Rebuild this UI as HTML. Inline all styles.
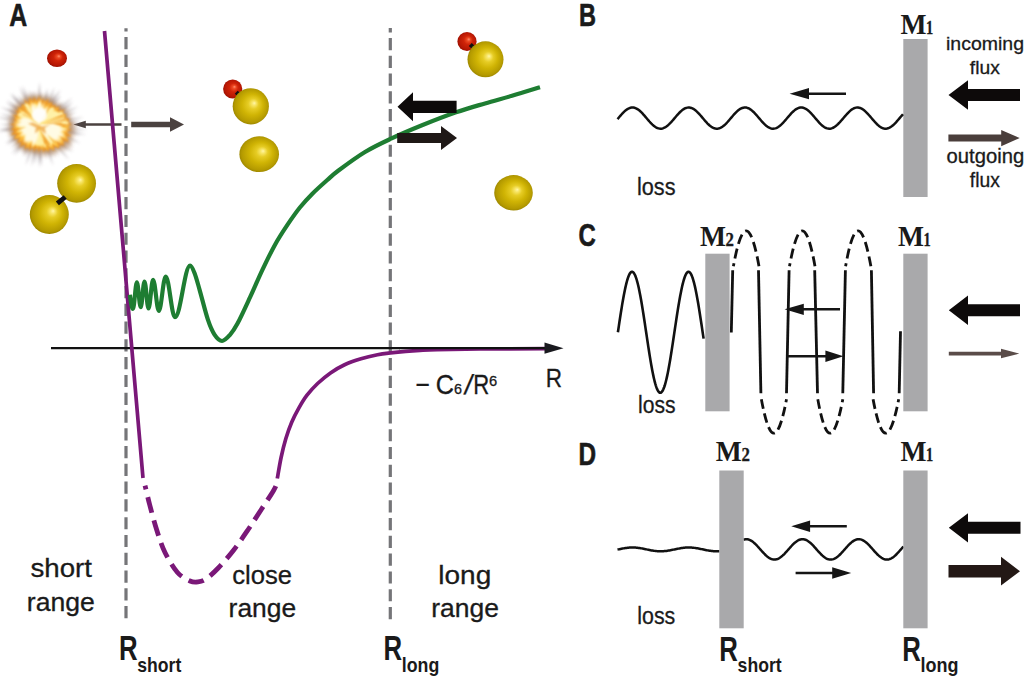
<!DOCTYPE html>
<html lang="en">
<head>
<meta charset="utf-8">
<title>Reaction potential and flux model</title>
<style>
html,body{margin:0;padding:0;background:#fff;}
body{width:1024px;height:681px;overflow:hidden;}
svg{display:block;}
.sans{font-family:"Liberation Sans",sans-serif;fill:#1a1a1a;stroke:#1a1a1a;stroke-width:0.3px;}
.serif{font-family:"Liberation Serif",serif;font-weight:bold;fill:#1a1a1a;}
.lab{font-family:"Liberation Sans",sans-serif;font-weight:bold;fill:#1a1a1a;}
.cap{font-family:"Liberation Sans",sans-serif;font-weight:bold;fill:#1a1a1a;stroke:#1a1a1a;stroke-width:0.6px;stroke-linejoin:round;}
</style>
</head>
<body>
<svg width="1024" height="681" viewBox="0 0 1024 681">
<defs>
<radialGradient id="gy" cx="0.5" cy="0.5" r="0.56" fx="0.6" fy="0.41">
<stop offset="0" stop-color="#fff6a8"/>
<stop offset="0.1" stop-color="#f8e668"/>
<stop offset="0.26" stop-color="#e6cc24"/>
<stop offset="0.52" stop-color="#d0b404"/>
<stop offset="0.82" stop-color="#b49a00"/>
<stop offset="1" stop-color="#887600"/>
</radialGradient>
<radialGradient id="gr" cx="0.5" cy="0.5" r="0.56" fx="0.6" fy="0.38">
<stop offset="0" stop-color="#ff9070"/>
<stop offset="0.16" stop-color="#ee4a24"/>
<stop offset="0.4" stop-color="#cf2408"/>
<stop offset="0.75" stop-color="#b81804"/>
<stop offset="1" stop-color="#8e0c00"/>
</radialGradient>
<radialGradient id="gex" cx="0.5" cy="0.5" r="0.5">
<stop offset="0" stop-color="#f0a030"/>
<stop offset="0.7" stop-color="#e09434"/>
<stop offset="0.85" stop-color="#c08850" stop-opacity="0.75"/>
<stop offset="1" stop-color="#a08878" stop-opacity="0"/>
</radialGradient>
<filter id="blur1" x="-30%" y="-30%" width="160%" height="160%"><feGaussianBlur stdDeviation="1.2"/></filter>
<filter id="blur3" x="-30%" y="-30%" width="160%" height="160%"><feGaussianBlur stdDeviation="2"/></filter>
<filter id="blur15" x="-30%" y="-30%" width="160%" height="160%"><feGaussianBlur stdDeviation="1.5"/></filter>
<filter id="blur2" x="-30%" y="-30%" width="160%" height="160%"><feGaussianBlur stdDeviation="0.8"/></filter>
</defs>
<rect width="1024" height="681" fill="#ffffff"/>

<g id="panelA">
<line x1="126" y1="28.3" x2="126" y2="618.4" stroke="#757578" stroke-width="3.2" stroke-dasharray="12.2 5.58" stroke-dashoffset="9"/>
<line x1="390.3" y1="28" x2="390.3" y2="619.8" stroke="#757578" stroke-width="3.2" stroke-dasharray="12.2 5.58" stroke-dashoffset="7.8"/>
<line x1="51" y1="348.2" x2="400" y2="348.2" stroke="#111" stroke-width="2.2"/>
<polygon points="73.2,124.5 85.8,120.8 85.8,123.35 121.5,123.35 121.5,125.65 85.8,125.65 85.8,128.2" fill="#4b4240"/>
<path d="M104.5 31 C107.5 65.83 117.88 186.33 122.5 240 C127.12 293.67 128.78 313.33 132.2 353 C135.62 392.67 141.2 457.17 143 478" fill="none" stroke="#7a1878" stroke-width="3.7" stroke-linecap="butt"/>
<path d="M143 478 C143.42 479.58 144.38 483 145.5 487.5 C146.62 492 147.88 497.92 149.75 505 C151.62 512.08 154.21 522.08 156.75 530 C159.29 537.92 161.54 545.42 165 552.5 C168.46 559.58 173.33 567.75 177.5 572.5 C181.67 577.25 186.58 579.43 190 581 C193.42 582.57 195.29 582.27 198 581.9 C200.71 581.52 202.88 581.07 206.25 578.75 C209.62 576.43 213.67 572.79 218.25 568 C222.83 563.21 228.76 556.42 233.75 550 C238.74 543.58 243.61 536.25 248.2 529.5 C252.79 522.75 257.07 516 261.3 509.5 C265.53 503 270.85 495.25 273.6 490.5 C276.35 485.75 277.1 482.58 277.8 481" pathLength="263.5" fill="none" stroke="#7a1878" stroke-width="4.8" stroke-dasharray="0 8.3 4 8.2 16.5 8 16.5 8 16.5 8 16.5 8 16.5 8 16.5 8 16.5 8 16.5 8 16.5 8 16.5 6"/>
<path d="M277.3 478.5 C277.93 475 279.68 464.13 281.1 457.5 C282.52 450.87 284.03 444.58 285.8 438.7 C287.57 432.82 289.53 427.3 291.7 422.2 C293.87 417.1 296.25 412.6 298.8 408.1 C301.35 403.6 303.87 399.3 307 395.2 C310.13 391.1 313.68 387.22 317.6 383.5 C321.52 379.78 326 376.03 330.5 372.9 C335 369.77 339.52 367.05 344.6 364.7 C349.68 362.35 355.52 360.45 361 358.8 C366.48 357.15 372.6 355.78 377.5 354.8 C382.4 353.82 385.7 353.48 390.4 352.9 C395.1 352.32 400.77 351.73 405.7 351.3 C410.63 350.87 414.78 350.58 420 350.3 C425.22 350.02 427 349.82 437 349.6 C447 349.38 461.83 349.17 480 349 C498.17 348.83 535 348.67 546 348.6" fill="none" stroke="#7a1878" stroke-width="3.7"/>
<line x1="399" y1="348.2" x2="548" y2="348.2" stroke="#111" stroke-width="2.2"/>
<polygon points="563.5,348.2 544.5,342.6 544.5,353.8" fill="#1a1a1f"/>
<path d="M129.9 294.8 C130.6 300 131.6 308.9 132.9 308.9 C134.36 308.9 135.44 282.3 136.9 282.3 C138.28 282.3 139.32 307.2 140.7 307.2 C142.08 307.2 143.12 281.5 144.5 281.5 C145.96 281.5 147.04 308.4 148.5 308.4 C150.18 308.4 151.42 279.8 153.1 279.8 C155.18 279.8 156.72 310.9 158.8 310.9 C161.31 310.9 163.19 276.5 165.7 276.5 C169.09 276.5 171.61 317.2 175 317.2 C180.5 317.2 184.6 265.7 190.1 265.7 C191.6 265.7 193.02 269.18 194.6 273.2 C196.18 277.22 197.38 282.05 199.6 289.8 C201.82 297.55 205.42 312.23 207.9 319.7 C210.38 327.17 212.15 331.05 214.5 334.6 C216.85 338.15 219.42 340.97 222 341 C224.58 341.03 227.42 337.7 230 334.8 C232.58 331.9 234.17 329.83 237.5 323.6 C240.83 317.37 245.85 306.35 250 297.4 C254.15 288.45 258.25 278.65 262.4 269.9 C266.55 261.15 270.73 252.4 274.9 244.9 C279.07 237.4 283.23 231.13 287.4 224.9 C291.57 218.67 295.73 212.7 299.9 207.5 C304.07 202.3 307.83 198.28 312.4 193.7 C316.97 189.12 322.95 183.87 327.3 180 C331.65 176.13 332.22 175.17 338.5 170.5 C344.78 165.83 356.25 157.3 365 152 C373.75 146.7 381.5 143.15 391 138.7 C400.5 134.25 411.17 129.7 422 125.3 C432.83 120.9 445.5 115.95 456 112.3 C466.5 108.65 475.67 106.15 485 103.4 C494.33 100.65 502.83 98.48 512 95.8 C521.17 93.12 535.33 88.72 540 87.3" fill="none" stroke="#1e7d32" stroke-width="4.2" stroke-linejoin="round"/>
<ellipse cx="57" cy="58.2" rx="10" ry="8.8" fill="url(#gr)"/>
<ellipse cx="76.6" cy="183.3" rx="19.4" ry="19.4" fill="url(#gy)"/>
<ellipse cx="49.3" cy="214.4" rx="19.5" ry="19.5" fill="url(#gy)"/>
<line x1="57.4" y1="203.4" x2="65.2" y2="197" stroke="#111" stroke-width="4.8"/>
<ellipse cx="232.7" cy="89" rx="9.6" ry="9.6" fill="url(#gr)"/>
<line x1="236.2" y1="92.3" x2="242.5" y2="98" stroke="#111" stroke-width="4.2"/>
<ellipse cx="250.8" cy="106.3" rx="18.1" ry="18.1" fill="url(#gy)"/>
<ellipse cx="259.2" cy="154.2" rx="19.8" ry="17.9" fill="url(#gy)"/>
<ellipse cx="467" cy="41.5" rx="9.6" ry="9.6" fill="url(#gr)"/>
<line x1="470.3" y1="44.5" x2="476" y2="50" stroke="#111" stroke-width="4.2"/>
<ellipse cx="485.5" cy="59.3" rx="18" ry="18" fill="url(#gy)"/>
<ellipse cx="513.5" cy="192.8" rx="19.3" ry="17.7" fill="url(#gy)"/>
<g id="explosion">
<path d="M60.87 123.3 L84.87 124.85 L60.85 125.94 Z M60.86 125.76 L87.37 130.33 L60.54 128.38 Z M60.63 127.81 L86.77 134.88 L60.07 130.39 Z M60.48 128.7 L81.55 135.6 L59.8 131.25 Z M59.43 132.32 L80.97 143.6 L58.33 134.72 Z M58.58 134.22 L73.7 144.46 L57.27 136.51 Z M57.92 135.46 L73.4 147.33 L56.46 137.65 Z M56.67 137.37 L73.22 152.77 L54.99 139.41 Z M55.92 138.34 L68.46 151.74 L54.13 140.28 Z M54.13 140.27 L69.45 160.31 L52.12 141.98 Z M51.82 142.21 L59.22 156.26 L49.6 143.62 Z M49.97 143.41 L55.46 157.24 L47.61 144.6 Z M48.34 144.27 L52.38 157.83 L45.89 145.26 Z M47.35 144.71 L53.31 165.87 L44.86 145.58 Z M44.97 145.55 L46.74 159.53 L42.4 146.12 Z M41.52 146.24 L41.43 166.85 L38.89 146.4 Z M40.59 146.34 L39.63 167.77 L37.95 146.38 Z M37.99 146.38 L34.85 164.23 L35.37 146.11 Z M36.43 146.26 L31.53 166.64 L33.83 145.81 Z M33.46 145.72 L25.73 165.55 L30.95 144.91 Z M31.06 144.96 L24.07 157.23 L28.66 143.87 Z M29.93 144.49 L22.9 155.15 L27.59 143.27 Z M28.34 143.7 L20.97 152.95 L26.1 142.3 Z M26.27 142.42 L14.12 155.59 L24.21 140.77 Z M24.97 141.43 L11.23 154.36 L23.03 139.64 Z M22.96 139.56 L10.69 148.17 L21.26 137.54 Z M21.04 137.25 L6.09 145.13 L19.63 135.02 Z M20.33 136.19 L4.96 143.19 L19.05 133.88 Z M18.96 133.7 L7.28 136.9 L17.99 131.24 Z M17.99 131.25 L6.57 132.88 L17.32 128.7 Z M17.51 129.55 L-2.74 131.82 L17.05 126.95 Z M17.32 128.7 L-2.3 130.07 L16.96 126.09 Z M16.95 125.95 L-0.1 124.82 L16.93 123.32 Z M16.9 124.42 L5.95 122.46 L17.06 121.79 Z M17.03 121.97 L-3.27 117.13 L17.48 119.37 Z M17.38 119.81 L-0.09 113.6 L18.09 117.27 Z M18.37 116.5 L0.3 106.83 L19.46 114.1 Z M18.8 115.46 L6.98 107.85 L20.01 113.12 Z M19.93 113.26 L5.16 101.76 L21.4 111.07 Z M20.69 112.05 L6.9 99.77 L22.3 109.96 Z M22.79 109.42 L10.08 94.17 L24.7 107.6 Z M23.36 108.83 L10.57 92.38 L25.34 107.08 Z M25.04 107.32 L17.81 94.97 L27.18 105.78 Z M27.55 105.55 L19.13 86.6 L29.89 104.33 Z M29.02 104.74 L22.04 85.13 L31.45 103.7 Z M31.34 103.74 L28.58 89.95 L33.86 102.98 Z M33.01 103.2 L31.69 90.76 L35.59 102.65 Z M34.7 102.8 L34.43 90.72 L37.32 102.46 Z M37.91 102.42 L39.55 81.39 L40.55 102.46 Z M39.14 102.4 L41.21 92.02 L41.78 102.59 Z M42.74 102.74 L47.63 87.99 L45.3 103.35 Z M43.85 102.96 L48.55 91.71 L46.38 103.71 Z M46.24 103.66 L54.65 87.18 L48.67 104.69 Z M48.02 104.38 L55.72 92.65 L50.35 105.61 Z M49.32 105.03 L60.66 89.18 L51.57 106.41 Z M51.14 106.12 L61.22 95.02 L53.24 107.71 Z M53.94 108.34 L63.19 101.39 L55.75 110.26 Z M55.31 109.75 L72.59 97.78 L56.95 111.82 Z M56.56 111.29 L73.84 101.58 L58.01 113.5 Z M57.27 112.3 L72.05 105.32 L58.59 114.59 Z M58.41 114.23 L78.67 106.6 L59.48 116.63 Z M59.4 116.43 L77.18 112.1 L60.21 118.94 Z M60.39 119.68 L84.26 117.25 L60.8 122.28 Z M60.74 121.76 L81.13 121.86 L60.9 124.4 Z" fill="#7a6c72" opacity="0.62" filter="url(#blur15)"/>
<polygon points="76.47,124.4 72.04,127.01 77.01,130.44 70.92,132.09 75.79,136.39 69.21,136.95 73.32,141.94 68.28,142.4 71.66,148.2 63.91,145.76 65.4,150.9 59.16,148.12 59.18,152.32 54.5,149.86 55.14,156.28 50.34,152.01 49.06,155.68 45.6,152.29 44.12,157.33 41.08,152.08 38.9,156.68 36.74,151.8 34.06,154.99 32.53,150.95 29.4,153.64 28.55,149.4 24.05,153.55 24.41,148.05 20.44,149.81 20.37,146.09 15.58,147.72 17.58,142.61 13.93,142.54 15.01,139.04 10.68,138.78 12.9,135.17 8.28,134.35 11.54,130.97 6.83,129.48 11.24,126.58 7.89,124.4 11.87,122.27 7.31,119.4 12.47,118.05 9.96,115 13.88,114.04 10.28,109.82 16.04,110.39 12.55,105.25 18.04,106.59 16.83,102.33 21.48,104 21.15,99.97 24.51,100.92 23.92,95.01 28.6,99.52 28.98,93.86 32.53,97.87 33.89,92.75 36.86,98.45 38.9,92.54 40.97,98.04 43.76,93.74 44.92,99.3 48.34,95.35 48.93,100.2 52.71,97.3 52.53,102.16 55.69,101.29 55.39,105.09 60.46,102.84 59.39,106.9 63.74,106.35 62.8,109.75 68.75,109.19 64.8,113.67 71.7,113.74 67.83,117.45 72.9,119.02 69.65,121.98" fill="#b88a60" opacity="0.75" filter="url(#blur3)"/>
<polygon points="71.65,124.4 67.03,126.86 71.73,130.19 66.39,131.77 71.47,136.25 65.61,136.85 69.16,141.87 63.13,141.37 64.13,145.57 59.75,145.25 58.84,148.16 54.44,146.59 54.16,150.83 49.85,147.89 48.73,151.41 45.58,149.34 43.84,152.39 40.93,147.63 38.9,152.8 36.89,147.38 34.04,151.94 32.81,147.14 29.27,150.87 28.31,147.11 24.34,149.62 25.02,144.23 19.96,146.97 21.25,142.05 17.07,142.72 19.25,138.16 13.65,138.98 16.38,134.9 10.75,134.64 14.29,131 10.69,129.37 15.18,126.47 9.91,124.4 16.25,122.42 12.74,119.79 16.03,118.27 12.88,114.93 18.33,114.81 14.91,110.55 18.98,110.45 18.08,106.93 22.28,107.78 21.56,103.73 25.49,105.25 24.34,99.18 28.9,102.96 28.94,97.04 32.5,100.51 34.04,96.85 36.88,101.36 38.9,95.76 40.93,101.2 43.55,98.04 44.75,102.57 48.43,98.2 48.52,103.78 51.91,101.86 51.98,105.72 55.55,104.56 55.56,107.74 59.96,106.73 58.33,110.8 64.54,109.6 62.53,113.38 66.08,114.51 64.75,117.47 69.65,118.98 67.87,121.87" fill="#e8962c" opacity="1" filter="url(#blur1)"/>
<polygon points="70.81,126.64 62.24,128.36 68.57,132.5 61.04,132.85 69.03,139.43 59.16,137.13 63.81,143.69 56.18,140.73 58.87,147.38 52.28,143.26 53.45,149.87 47.31,143.19 47.78,150.95 43.39,144.08 42.2,150.39 39.45,144.08 37.16,149.24 35.56,144.09 32.22,148.87 31.91,142.72 27.06,148.13 28,141.75 23.85,143.83 25.28,138.81 19.11,141.6 21.13,137.01 14.86,138.14 20.01,132.86 15.56,132.21 18.34,129.09 13.52,127.62 18.7,124.97 12.9,122.58 19.12,121.04 14.73,117.81 19.63,117.05 16.84,113.4 22.58,114.15 18.18,108.35 25.17,111.42 22.72,105.78 26.91,107.5 26.95,103.48 30.39,105.39 30.62,99.64 34.52,105.22 35.8,100 38.33,104.07 40.73,98.29 41.97,106.3 45.33,100.84 45.73,106.51 49.73,102.68 48.78,108.68 53.24,105.89 52.34,110.18 58.65,107.24 54.35,113.43 61.05,111.75 59.08,115.37 66.38,115.21 61.29,119.29 66.49,120.9 63.25,123.71" fill="#ffc040" opacity="1" filter="url(#blur2)"/>
<polygon points="69.42,129.01 59.89,130.23 66.61,135.85 54.85,133.37 63.17,142.22 52.22,136.91 56.72,145.74 49.61,140.93 50.5,148.17 44.13,139.51 43.81,147.16 40.51,141.93 38.26,146.34 36.45,140.59 32.78,146.45 33.12,138.4 27.12,145.34 29.99,136.53 23.62,140.67 26.42,134.82 20.17,136.54 25.17,131.1 16.03,132.32 22.18,128.01 14.02,126.69 23.91,123.96 16.4,121 24.17,120.31 17.46,115.55 25.19,116.68 19.09,109.85 27.59,113.78 25.23,108.03 29.87,110.46 29.31,104.76 33.52,108.86 34.01,101.75 37.34,107.39 39.57,101.43 41.28,108.66 44.63,103.77 44.81,110.1 49.3,105.92 48.42,111.43 54.39,107.91 50.31,114.87 57.89,112.1 53.77,117.14 63.87,115.75 55.65,120.79 66.96,121.82 58.76,124.98" fill="#ffe27a" opacity="1" filter="url(#blur2)"/>
<path d="M42.52 129.2 L53.67 141.87 L51.61 143.43 Z M42.92 131.13 L52.17 144.64 L50.4 145.7 Z M40.99 132.06 L46.06 146.89 L44.16 147.41 Z M40.4 131.64 L43.87 144.07 L42.15 144.42 Z M39.15 126.69 L42.04 145.2 L40.29 145.39 Z M39.24 128.22 L41.91 146.19 L39.77 146.38 Z M39.02 129.45 L40.9 144.72 L37.88 144.79 Z M38.72 127.04 L38.39 145.48 L36.58 145.36 Z M38.58 126.48 L37.02 144.72 L34.57 144.35 Z M33.55 125.49 L19.79 129.13 L19.46 127.51 Z M33.54 121.65 L17.82 115.43 L19.34 112.49 Z M33.69 121.28 L19.16 113.96 L20.37 111.94 Z M32.95 119.71 L21.87 112.67 L23.53 110.56 Z M36.27 120.95 L26.54 109.9 L28.17 108.66 Z M35.78 119.65 L23.95 104.83 L26.89 102.9 Z M35.64 119.02 L26.06 105.96 L28.52 104.47 Z M38.45 122.26 L33.54 104.95 L35.95 104.44 Z M41.65 120.38 L48.81 108.24 L50.39 109.32 Z M41.22 121.46 L50.45 107.33 L52.78 109.17 Z M41.42 121.59 L52.37 107.13 L54.58 109.11 Z M42.16 121.26 L51.79 110.43 L53.33 112.03 Z M40.85 122.72 L53.87 110.34 L55.01 111.67 Z M45.05 119.93 L55.6 110.67 L57.1 112.73 Z M44.36 120.69 L54.19 112.41 L55.68 114.61 Z M42.57 122.16 L57.51 111.73 L58.66 113.6 Z M43.03 122.24 L61.54 111.16 L62.7 113.37 Z M44.5 121.93 L62.7 112.48 L63.77 114.91 Z M41.05 123.87 L63.56 116.68 L64.33 119.82 Z M46.18 123.39 L65.73 118.62 L66.3 122.69 Z M46.85 124 L68.35 121.28 L68.51 124.52 Z" fill="#fff1a8" filter="url(#blur2)"/>
<path d="M41.65 124.34 L62.26 122.85 L62.3 124.93 Z M42.83 124.6 L65.54 124.46 L65.41 127.09 Z M43.93 130.13 L56 142.77 L54.92 143.72 Z M41.78 130.11 L50.07 144.48 L48.45 145.3 Z M41.95 131.41 L49.74 147.18 L48.17 147.86 Z M39.67 126.64 L46.52 143.33 L44.52 144.02 Z M36.35 125.02 L16.55 130.83 L16.09 128.97 Z M35.44 122.14 L22.42 114.34 L23.05 113.38 Z M34.42 120.38 L21.01 109.28 L21.94 108.25 Z M34.45 119.76 L21.52 107.83 L23.07 106.34 Z M36.6 121.85 L21.82 106.99 L23.29 105.66 Z M40.48 118.87 L44.41 101.08 L46.51 101.68 Z M40.14 122.3 L50.13 103.51 L51.77 104.47 Z M43.23 122.82 L62.93 114.57 L63.6 116.41 Z M45.74 123.14 L66.16 118.29 L66.55 120.39 Z" fill="#f0a030" opacity="0.9" filter="url(#blur2)"/>
<path d="M38.9 124.4 L53.2 123.86 L62.9 126.96 L52.76 127.94 Z M38.9 124.4 L55.32 126.06 L68.28 130.53 L54.61 129.45 Z M38.9 124.4 L51.67 126.72 L64.61 131.75 L50.96 129.18 Z M38.9 124.4 L51.48 126.73 L64.73 132.92 L50.4 130.01 Z M38.9 124.4 L54.49 128.75 L64.59 135.57 L52.71 132.83 Z M38.9 124.4 L53.48 129.32 L65.99 137.79 L51.67 133 Z M38.9 124.4 L52.69 130.43 L61.51 136.82 L51.38 132.81 Z M38.9 124.4 L53.85 131.46 L62.48 140.12 L51.17 135.48 Z M38.9 124.4 L49.18 130.56 L58.89 139.94 L47.4 132.84 Z M38.9 124.4 L50.65 132.19 L61.67 143.66 L48.53 134.7 Z M38.9 124.4 L48.62 132 L57.11 142.15 L46.74 133.93 Z M38.9 124.4 L45.71 132.1 L51.32 143.35 L43.24 133.72 Z M38.9 124.4 L38.11 136.87 L34.55 146.33 L34.88 136.23 Z M38.9 124.4 L36.94 135.72 L32.25 147.21 L34.48 135.01 Z M38.9 124.4 L36.28 137.67 L31.76 146.91 L33.4 136.76 Z M38.9 124.4 L36.13 133.86 L30.94 144.16 L34.34 133.14 Z M38.9 124.4 L35.26 135.31 L29.81 143.01 L32.53 133.98 Z M38.9 124.4 L34.84 134.09 L28.07 144.23 L32.94 133.05 Z M38.9 124.4 L32.5 136.92 L25.62 144.46 L29.87 135.18 Z M38.9 124.4 L32.31 136.02 L24.55 142.79 L29.23 133.62 Z M38.9 124.4 L32.44 134.55 L22.57 142.72 L29.56 131.98 Z M38.9 124.4 L32.6 132.12 L23.84 138.98 L30.98 130.44 Z M38.9 124.4 L31.33 133.41 L23.4 138.34 L29.14 130.97 Z M38.9 124.4 L31.13 131.52 L22.26 137.09 L29.98 130.01 Z M38.9 124.4 L30.8 131.66 L21.1 135.82 L28.92 128.73 Z M38.9 124.4 L28.44 132.25 L19.25 135.93 L26.94 129.7 Z M38.9 124.4 L29.11 130.29 L20.38 133.26 L28.17 128.33 Z M38.9 124.4 L30.26 129.77 L20.03 132.28 L29.01 126.77 Z M38.9 124.4 L27.39 129.67 L17.53 131.14 L26.45 126.69 Z M38.9 124.4 L28.56 126.81 L16.93 126.85 L28.29 124.32 Z M38.9 124.4 L27.99 126.36 L16.9 125.77 L27.84 123.81 Z M38.9 124.4 L25.44 126.81 L13.7 124.73 L25.38 122.35 Z M38.9 124.4 L28.51 124.8 L16.13 123.03 L28.64 122.75 Z M38.9 124.4 L27.11 124.19 L14.48 121.61 L27.36 121.95 Z M38.9 124.4 L26.05 123.12 L15.68 119.4 L26.66 120.28 Z M38.9 124.4 L27.41 122.54 L18.09 118.47 L28.15 119.93 Z M38.9 124.4 L29.59 122.58 L20.71 118.56 L30.27 120.46 Z M38.9 124.4 L27.05 121.22 L19.88 116.66 L28.2 118.4 Z M38.9 124.4 L33.21 114.96 L30.3 106.03 L35.29 113.99 Z M38.9 124.4 L33.84 114.5 L30.55 102.98 L35.92 113.69 Z M38.9 124.4 L32.78 112.69 L30.79 102.21 L36.03 111.5 Z M38.9 124.4 L34.4 113.35 L32.57 101.17 L37.17 112.6 Z M38.9 124.4 L35.98 113.53 L36.24 103.7 L38.98 113.15 Z M38.9 124.4 L36.8 113.96 L37.72 104.07 L39.79 113.79 Z M38.9 124.4 L36.97 111.09 L39.33 99.81 L41.3 111.17 Z M38.9 124.4 L38.67 111.68 L41.04 100.1 L41.35 111.91 Z M38.9 124.4 L38.97 114.74 L41.14 104.09 L40.94 114.96 Z M38.9 124.4 L40.31 111.22 L43.56 101.72 L42.8 111.73 Z M38.9 124.4 L41.01 114.51 L44.93 105.35 L42.86 115.09 Z M38.9 124.4 L41.3 115 L46.14 106.82 L43.81 116.03 Z M38.9 124.4 L42.51 114.32 L48.3 105.45 L44.74 115.43 Z" fill="#fffbe4" filter="url(#blur2)"/>
<ellipse cx="39.4" cy="115.4" rx="7.5" ry="7" fill="#ffffff" opacity="0.85" filter="url(#blur1)"/>
<path d="M41.9 126.4 l-9 -4 l-5 1 l8 4 l-1 6 l5 -4 l6 5 l-1 -7 l6 -3 z" fill="#eda038" opacity="0.75" filter="url(#blur2)"/>
</g>
<polygon points="184,124.5 170,117.25 170,121.7 131.2,121.7 131.2,127.3 170,127.3 170,131.75" fill="#4b4240"/>
<polygon points="397.5,106.8 413,92.3 413,100.7 456.6,100.7 456.6,112.9 413,112.9 413,121.3" fill="#0d0a0a"/>
<polygon points="457,138 441,126 441,133 397.2,133 397.2,143 441,143 441,150" fill="#1f1816"/>
<text x="9.2" y="25.6" font-size="30.8" class="cap" text-anchor="start" textLength="18" lengthAdjust="spacingAndGlyphs">A</text>
<text x="30.5" y="576.8" font-size="25.7" class="sans" text-anchor="start" textLength="61.5" lengthAdjust="spacingAndGlyphs">short</text>
<text x="26.8" y="610.9" font-size="25.7" class="sans" text-anchor="start" textLength="68" lengthAdjust="spacingAndGlyphs">range</text>
<text x="232.3" y="583.8" font-size="25.7" class="sans" text-anchor="start" textLength="59.8" lengthAdjust="spacingAndGlyphs">close</text>
<text x="228.6" y="617.3" font-size="25.7" class="sans" text-anchor="start" textLength="67.6" lengthAdjust="spacingAndGlyphs">range</text>
<text x="438.3" y="583.8" font-size="25.7" class="sans" text-anchor="start" textLength="53" lengthAdjust="spacingAndGlyphs">long</text>
<text x="431.3" y="617.3" font-size="25.7" class="sans" text-anchor="start" textLength="67.6" lengthAdjust="spacingAndGlyphs">range</text>
<text x="545.7" y="386.7" font-size="26.3" class="sans" text-anchor="start" textLength="16.3" lengthAdjust="spacingAndGlyphs">R</text>
<text x="415.2" y="394" class="sans" font-size="27.5" textLength="14.4" lengthAdjust="spacingAndGlyphs">−</text>
<text x="435.7" y="394" class="sans" font-size="27.5" textLength="18.2" lengthAdjust="spacingAndGlyphs">C</text>
<text x="454" y="394" class="sans" font-size="14.6" textLength="8" lengthAdjust="spacingAndGlyphs">6</text>
<text x="0" y="0" class="sans" font-size="27.5" transform="translate(463.6 394) skewX(-9)">/</text>
<text x="473.2" y="394" class="sans" font-size="27.5" textLength="16" lengthAdjust="spacingAndGlyphs">R</text>
<text x="488.9" y="385.7" class="sans" font-size="14.6" textLength="8.2" lengthAdjust="spacingAndGlyphs">6</text>
<text x="119" y="660" class="lab" font-size="34.3" textLength="18.6" lengthAdjust="spacingAndGlyphs" style="font-weight:bold">R</text>
<text x="137.3" y="671.5" class="lab" font-size="21" textLength="44" lengthAdjust="spacingAndGlyphs">short</text>
<text x="383.5" y="660" class="lab" font-size="34.3" textLength="18.6" lengthAdjust="spacingAndGlyphs" style="font-weight:bold">R</text>
<text x="401.8" y="671.5" class="lab" font-size="21" textLength="37.5" lengthAdjust="spacingAndGlyphs">long</text>
</g>
<g id="panelB">
<text x="579" y="25.6" font-size="30.8" class="cap" text-anchor="start" textLength="17" lengthAdjust="spacingAndGlyphs">B</text>
<rect x="903.3" y="39" width="24.3" height="158" fill="#a9a9ab"/>
<path d="M617.5 119.16 L618.5 117.98 L619.5 116.8 L620.49 115.64 L621.49 114.51 L622.49 113.42 L623.49 112.39 L624.49 111.43 L625.49 110.56 L626.48 109.78 L627.48 109.1 L628.48 108.53 L629.48 108.08 L630.48 107.76 L631.48 107.56 L632.47 107.5 L633.47 107.57 L634.47 107.77 L635.47 108.09 L636.47 108.54 L637.47 109.11 L638.46 109.79 L639.46 110.58 L640.46 111.46 L641.46 112.42 L642.46 113.45 L643.45 114.54 L644.45 115.67 L645.45 116.83 L646.45 118.01 L647.45 119.19 L648.45 120.36 L649.44 121.5 L650.44 122.59 L651.44 123.63 L652.44 124.6 L653.44 125.49 L654.44 126.29 L655.43 126.99 L656.43 127.58 L657.43 128.05 L658.43 128.39 L659.43 128.61 L660.42 128.7 L661.42 128.65 L662.42 128.48 L663.42 128.17 L664.42 127.74 L665.42 127.2 L666.41 126.53 L667.41 125.77 L668.41 124.9 L669.41 123.96 L670.41 122.94 L671.41 121.86 L672.4 120.73 L673.4 119.57 L674.4 118.4 L675.4 117.21 L676.4 116.04 L677.4 114.9 L678.39 113.8 L679.39 112.74 L680.39 111.76 L681.39 110.85 L682.39 110.04 L683.38 109.32 L684.38 108.72 L685.38 108.23 L686.38 107.86 L687.38 107.62 L688.38 107.51 L689.37 107.53 L690.37 107.68 L691.37 107.96 L692.37 108.37 L693.37 108.9 L694.37 109.54 L695.36 110.29 L696.36 111.14 L697.36 112.07 L698.36 113.08 L699.36 114.15 L700.35 115.27 L701.35 116.42 L702.35 117.6 L703.35 118.78 L704.35 119.95 L705.35 121.1 L706.34 122.22 L707.34 123.28 L708.34 124.27 L709.34 125.19 L710.34 126.03 L711.34 126.76 L712.33 127.39 L713.33 127.9 L714.33 128.29 L715.33 128.55 L716.33 128.68 L717.33 128.68 L718.32 128.55 L719.32 128.29 L720.32 127.91 L721.32 127.4 L722.32 126.78 L723.31 126.04 L724.31 125.21 L725.31 124.3 L726.31 123.3 L727.31 122.24 L728.31 121.13 L729.3 119.98 L730.3 118.81 L731.3 117.63 L732.3 116.45 L733.3 115.3 L734.3 114.18 L735.29 113.1 L736.29 112.09 L737.29 111.16 L738.29 110.31 L739.29 109.56 L740.28 108.91 L741.28 108.38 L742.28 107.97 L743.28 107.69 L744.28 107.53 L745.28 107.51 L746.27 107.61 L747.27 107.85 L748.27 108.22 L749.27 108.7 L750.27 109.31 L751.27 110.02 L752.26 110.83 L753.26 111.74 L754.26 112.72 L755.26 113.77 L756.26 114.87 L757.26 116.02 L758.25 117.19 L759.25 118.37 L760.25 119.55 L761.25 120.71 L762.25 121.83 L763.24 122.91 L764.24 123.93 L765.24 124.88 L766.24 125.75 L767.24 126.52 L768.24 127.18 L769.23 127.73 L770.23 128.17 L771.23 128.47 L772.23 128.65 L773.23 128.7 L774.23 128.61 L775.22 128.4 L776.22 128.06 L777.22 127.59 L778.22 127.01 L779.22 126.31 L780.22 125.51 L781.21 124.63 L782.21 123.66 L783.21 122.62 L784.21 121.52 L785.21 120.38 L786.2 119.22 L787.2 118.04 L788.2 116.86 L789.2 115.69 L790.2 114.56 L791.2 113.47 L792.19 112.44 L793.19 111.48 L794.19 110.6 L795.19 109.81 L796.19 109.13 L797.19 108.55 L798.18 108.1 L799.18 107.77 L800.18 107.57 L801.18 107.5 L802.18 107.56 L803.17 107.75 L804.17 108.07 L805.17 108.52 L806.17 109.08 L807.17 109.76 L808.17 110.54 L809.16 111.41 L810.16 112.37 L811.16 113.4 L812.16 114.48 L813.16 115.62 L814.16 116.78 L815.15 117.96 L816.15 119.14 L817.15 120.3 L818.15 121.44 L819.15 122.54 L820.15 123.59 L821.14 124.56 L822.14 125.46 L823.14 126.26 L824.14 126.96 L825.14 127.55 L826.13 128.03 L827.13 128.38 L828.13 128.6 L829.13 128.7 L830.13 128.66 L831.13 128.49 L832.12 128.19 L833.12 127.77 L834.12 127.22 L835.12 126.57 L836.12 125.8 L837.12 124.94 L838.11 124 L839.11 122.99 L840.11 121.91 L841.11 120.78 L842.11 119.63 L843.1 118.45 L844.1 117.27 L845.1 116.1 L846.1 114.95 L847.1 113.85 L848.1 112.79 L849.09 111.8 L850.09 110.89 L851.09 110.07 L852.09 109.35 L853.09 108.74 L854.09 108.25 L855.08 107.87 L856.08 107.63 L857.08 107.51 L858.08 107.53 L859.08 107.67 L860.08 107.95 L861.07 108.35 L862.07 108.87 L863.07 109.51 L864.07 110.26 L865.07 111.1 L866.06 112.03 L867.06 113.03 L868.06 114.1 L869.06 115.22 L870.06 116.37 L871.06 117.54 L872.05 118.73 L873.05 119.9 L874.05 121.05 L875.05 122.17 L876.05 123.23 L877.05 124.23 L878.04 125.15 L879.04 125.99 L880.04 126.73 L881.04 127.36 L882.04 127.88 L883.03 128.27 L884.03 128.54 L885.03 128.68 L886.03 128.69 L887.03 128.56 L888.03 128.31 L889.02 127.93 L890.02 127.43 L891.02 126.81 L892.02 126.08 L893.02 125.25 L894.02 124.34 L895.01 123.35 L896.01 122.29 L897.01 121.18 L898.01 120.03 L899.01 118.86 L900.01 117.68 L901 116.5 L902 115.35 L903 114.23" fill="none" stroke="#111" stroke-width="2.5"/>
<polygon points="789.6,93.7 809,88.1 809,92.4 846,92.4 846,95 809,95 809,99.3" fill="#151515"/>
<text x="900.5" y="33.5" class="serif" font-size="30.3" textLength="26" lengthAdjust="spacingAndGlyphs">M</text>
<text x="926.1" y="33.5" class="serif" font-size="19.5" textLength="7.2" lengthAdjust="spacingAndGlyphs" style="stroke:#1a1a1a;stroke-width:0.35px">1</text>
<text x="946" y="49.8" font-size="19" class="sans" text-anchor="start" textLength="78" lengthAdjust="spacingAndGlyphs">incoming</text>
<text x="969.8" y="73.5" font-size="19" class="sans" text-anchor="start" textLength="30" lengthAdjust="spacingAndGlyphs">flux</text>
<text x="946.6" y="163" font-size="19.5" class="sans" text-anchor="start" textLength="77.6" lengthAdjust="spacingAndGlyphs">outgoing</text>
<text x="969.8" y="186.6" font-size="19.5" class="sans" text-anchor="start" textLength="30" lengthAdjust="spacingAndGlyphs">flux</text>
<polygon points="948.5,95 968,80.25 968,88.9 1020,88.9 1020,101.1 968,101.1 968,109.75" fill="#0d0a0a"/>
<polygon points="1019.7,138.1 1001.2,129.95 1001.2,134.6 948.4,134.6 948.4,141.6 1001.2,141.6 1001.2,146.25" fill="#4a3e3b"/>
<text x="637" y="195" font-size="23.5" class="sans" text-anchor="start" textLength="38.5" lengthAdjust="spacingAndGlyphs">loss</text>
</g>
<g id="panelC">
<text x="578.4" y="245.9" font-size="30.8" class="cap" text-anchor="start" textLength="17.3" lengthAdjust="spacingAndGlyphs">C</text>
<text x="700" y="246.2" class="serif" font-size="30.3" textLength="26" lengthAdjust="spacingAndGlyphs">M</text>
<text x="725.6" y="246.2" class="serif" font-size="19.5" textLength="8.4" lengthAdjust="spacingAndGlyphs" style="stroke:#1a1a1a;stroke-width:0.35px">2</text>
<text x="898" y="246.2" class="serif" font-size="30.3" textLength="26" lengthAdjust="spacingAndGlyphs">M</text>
<text x="923.6" y="246.2" class="serif" font-size="19.5" textLength="7.2" lengthAdjust="spacingAndGlyphs" style="stroke:#1a1a1a;stroke-width:0.35px">1</text>
<path d="M617.9 332.3 L618.4 328.95 L618.9 325.61 L619.39 322.29 L619.89 319 L620.39 315.75 L620.89 312.55 L621.39 309.42 L621.89 306.35 L622.38 303.36 L622.88 300.47 L623.38 297.67 L623.88 294.97 L624.38 292.39 L624.88 289.94 L625.37 287.61 L625.87 285.42 L626.37 283.37 L626.87 281.48 L627.37 279.74 L627.87 278.16 L628.36 276.75 L628.86 275.51 L629.36 274.44 L629.86 273.55 L630.36 272.84 L630.85 272.31 L631.35 271.97 L631.85 271.81 L632.35 271.84 L632.85 272.05 L633.35 272.45 L633.84 273.03 L634.34 273.8 L634.84 274.74 L635.34 275.86 L635.84 277.16 L636.34 278.62 L636.83 280.25 L637.33 282.03 L637.83 283.98 L638.33 286.07 L638.83 288.3 L639.33 290.66 L639.82 293.16 L640.32 295.77 L640.82 298.5 L641.32 301.33 L641.82 304.26 L642.31 307.27 L642.81 310.36 L643.31 313.52 L643.81 316.73 L644.31 319.99 L644.81 323.29 L645.3 326.62 L645.8 329.96 L646.3 333.31 L646.8 336.66 L647.3 340 L647.8 343.31 L648.29 346.59 L648.79 349.82 L649.29 353 L649.79 356.12 L650.29 359.16 L650.78 362.12 L651.28 364.99 L651.78 367.76 L652.28 370.42 L652.78 372.96 L653.28 375.38 L653.77 377.67 L654.27 379.82 L654.77 381.82 L655.27 383.67 L655.77 385.36 L656.27 386.89 L656.76 388.25 L657.26 389.44 L657.76 390.45 L658.26 391.29 L658.76 391.94 L659.26 392.41 L659.75 392.7 L660.25 392.8 L660.75 392.72 L661.25 392.45 L661.75 391.99 L662.24 391.35 L662.74 390.54 L663.24 389.54 L663.74 388.36 L664.24 387.02 L664.74 385.51 L665.23 383.83 L665.73 382 L666.23 380.01 L666.73 377.87 L667.23 375.6 L667.73 373.19 L668.22 370.66 L668.72 368.01 L669.22 365.25 L669.72 362.39 L670.22 359.44 L670.72 356.4 L671.21 353.29 L671.71 350.12 L672.21 346.89 L672.71 343.62 L673.21 340.31 L673.7 336.97 L674.2 333.63 L674.7 330.27 L675.2 326.93 L675.7 323.6 L676.2 320.3 L676.69 317.03 L677.19 313.81 L677.69 310.65 L678.19 307.56 L678.69 304.54 L679.19 301.6 L679.68 298.76 L680.18 296.02 L680.68 293.4 L681.18 290.89 L681.68 288.51 L682.17 286.27 L682.67 284.16 L683.17 282.21 L683.67 280.41 L684.17 278.76 L684.67 277.29 L685.16 275.98 L685.66 274.84 L686.16 273.88 L686.66 273.1 L687.16 272.5 L687.66 272.08 L688.15 271.85 L688.65 271.81 L689.15 271.95 L689.65 272.27 L690.15 272.78 L690.65 273.47 L691.14 274.35 L691.64 275.4 L692.14 276.62 L692.64 278.02 L693.14 279.58 L693.63 281.31 L694.13 283.19 L694.63 285.22 L695.13 287.4 L695.63 289.71 L696.13 292.16 L696.62 294.73 L697.12 297.41 L697.62 300.2 L698.12 303.09 L698.62 306.07 L699.12 309.13 L699.61 312.26 L700.11 315.45 L700.61 318.7 L701.11 321.98 L701.61 325.3 L702.11 328.64 L702.6 331.99 L703.1 335.34 L703.6 338.68" fill="none" stroke="#111" stroke-width="2.6"/>
<line x1="731.3" y1="332.5" x2="732.7" y2="270.2" stroke="#111" stroke-width="2.8"/>
<line x1="758.5" y1="270.2" x2="760.9" y2="393.3" stroke="#111" stroke-width="2.8"/>
<line x1="786.5" y1="393.3" x2="789.1" y2="270.2" stroke="#111" stroke-width="2.8"/>
<line x1="814.7" y1="270.2" x2="817.5" y2="393.3" stroke="#111" stroke-width="2.8"/>
<line x1="842.8" y1="393.3" x2="845.4" y2="270.2" stroke="#111" stroke-width="2.8"/>
<line x1="871.4" y1="270.2" x2="873.6" y2="393.3" stroke="#111" stroke-width="2.8"/>
<line x1="899.2" y1="393.3" x2="900.5" y2="331.3" stroke="#111" stroke-width="2.8"/>
<path d="M733.4 266.3 Q746.2 195.5 759 266.3" pathLength="100" fill="none" stroke="#111" stroke-width="2.8" stroke-dasharray="3.9 6.4 12.8 6.4 12.8 6.4 12.8 6.4 12.8 6.4 12.8 0"/>
<path d="M789.5 266.3 Q802.3 195.5 815 266.3" pathLength="100" fill="none" stroke="#111" stroke-width="2.8" stroke-dasharray="3.9 6.4 12.8 6.4 12.8 6.4 12.8 6.4 12.8 6.4 12.8 0"/>
<path d="M845.6 266.3 Q858 195.5 870.9 266.3" pathLength="100" fill="none" stroke="#111" stroke-width="2.8" stroke-dasharray="3.9 6.4 12.8 6.4 12.8 6.4 12.8 6.4 12.8 6.4 12.8 0"/>
<path d="M786.5 399.3 Q773.8 467.1 761.4 399.3" pathLength="100" fill="none" stroke="#111" stroke-width="2.8" stroke-dasharray="3.9 6.4 12.8 6.4 12.8 6.4 12.8 6.4 12.8 6.4 12.8 0"/>
<path d="M842.8 399.3 Q829.9 467.1 817.8 399.3" pathLength="100" fill="none" stroke="#111" stroke-width="2.8" stroke-dasharray="3.9 6.4 12.8 6.4 12.8 6.4 12.8 6.4 12.8 6.4 12.8 0"/>
<path d="M898.7 399.3 Q885.6 467.1 873.1 399.3" pathLength="100" fill="none" stroke="#111" stroke-width="2.8" stroke-dasharray="3.9 6.4 12.8 6.4 12.8 6.4 12.8 6.4 12.8 6.4 12.8 0"/>
<rect x="705.3" y="253.7" width="24.3" height="157.6" fill="#a9a9ab"/>
<rect x="903.3" y="253.7" width="24.3" height="157.6" fill="#a9a9ab"/>
<polygon points="784.6,309.3 803.8,303.65 803.8,308 840,308 840,310.6 803.8,310.6 803.8,314.95" fill="#151515"/>
<polygon points="843.4,356.3 825.4,350.55 825.4,355 787.5,355 787.5,357.6 825.4,357.6 825.4,362.05" fill="#151515"/>
<polygon points="948.8,310.3 968,295.55 968,304.3 1020,304.3 1020,316.3 968,316.3 968,325.05" fill="#0d0a0a"/>
<polygon points="1019.3,353.6 1001,348.85 1001,351.8 948.8,351.8 948.8,355.4 1001,355.4 1001,358.35" fill="#5a4c49"/>
<text x="638" y="413.2" font-size="23.5" class="sans" text-anchor="start" textLength="37.5" lengthAdjust="spacingAndGlyphs">loss</text>
</g>
<g id="panelD">
<text x="578.6" y="465.4" font-size="30.8" class="cap" text-anchor="start" textLength="17.6" lengthAdjust="spacingAndGlyphs">D</text>
<text x="715.8" y="461.2" class="serif" font-size="30.3" textLength="26" lengthAdjust="spacingAndGlyphs">M</text>
<text x="741.4" y="461.2" class="serif" font-size="19.5" textLength="8.4" lengthAdjust="spacingAndGlyphs" style="stroke:#1a1a1a;stroke-width:0.35px">2</text>
<text x="900.5" y="461.2" class="serif" font-size="30.3" textLength="26" lengthAdjust="spacingAndGlyphs">M</text>
<text x="926.1" y="461.2" class="serif" font-size="19.5" textLength="7.2" lengthAdjust="spacingAndGlyphs" style="stroke:#1a1a1a;stroke-width:0.35px">1</text>
<path d="M617.5 549.59 L618.5 549.38 L619.5 549.17 L620.5 548.96 L621.5 548.76 L622.5 548.56 L623.5 548.38 L624.5 548.2 L625.5 548.05 L626.5 547.91 L627.5 547.78 L628.5 547.68 L629.5 547.6 L630.5 547.55 L631.5 547.51 L632.5 547.5 L633.5 547.51 L634.5 547.55 L635.5 547.61 L636.5 547.69 L637.5 547.79 L638.5 547.92 L639.5 548.06 L640.5 548.22 L641.5 548.39 L642.5 548.57 L643.5 548.77 L644.5 548.97 L645.5 549.18 L646.5 549.39 L647.5 549.61 L648.5 549.82 L649.5 550.02 L650.5 550.22 L651.5 550.4 L652.5 550.58 L653.5 550.74 L654.5 550.88 L655.5 551 L656.5 551.11 L657.5 551.19 L658.5 551.25 L659.5 551.29 L660.5 551.3 L661.5 551.29 L662.5 551.26 L663.5 551.2 L664.5 551.12 L665.5 551.02 L666.5 550.9 L667.5 550.76 L668.5 550.6 L669.5 550.43 L670.5 550.25 L671.5 550.05 L672.5 549.85 L673.5 549.64 L674.5 549.43 L675.5 549.22 L676.5 549.01 L677.5 548.81 L678.5 548.61 L679.5 548.42 L680.5 548.24 L681.5 548.08 L682.5 547.94 L683.5 547.81 L684.5 547.71 L685.5 547.62 L686.5 547.56 L687.5 547.52 L688.5 547.5 L689.5 547.51 L690.5 547.54 L691.5 547.59 L692.5 547.67 L693.5 547.77 L694.5 547.88 L695.5 548.02 L696.5 548.17 L697.5 548.34 L698.5 548.53 L699.5 548.72 L700.5 548.92 L701.5 549.13 L702.5 549.34 L703.5 549.55 L704.5 549.76 L705.5 549.97 L706.5 550.17 L707.5 550.36 L708.5 550.53 L709.5 550.7 L710.5 550.84 L711.5 550.97 L712.5 551.08 L713.5 551.17 L714.5 551.24 L715.5 551.28 L716.5 551.3 L717.5 551.29 L718.5 551.27 L719.5 551.22" fill="none" stroke="#111" stroke-width="2.5"/>
<path d="M743.5 539.68 L744.5 539.4 L745.5 539.24 L746.5 539.2 L747.5 539.3 L748.5 539.52 L749.5 539.86 L750.5 540.32 L751.5 540.9 L752.5 541.58 L753.5 542.36 L754.5 543.22 L755.5 544.16 L756.5 545.17 L757.5 546.23 L758.5 547.34 L759.5 548.46 L760.5 549.6 L761.5 550.73 L762.5 551.85 L763.5 552.94 L764.5 553.99 L765.5 554.97 L766.5 555.89 L767.5 556.73 L768.5 557.47 L769.5 558.12 L770.5 558.65 L771.5 559.07 L772.5 559.37 L773.5 559.55 L774.5 559.6 L775.5 559.52 L776.5 559.32 L777.5 558.99 L778.5 558.54 L779.5 557.98 L780.5 557.31 L781.5 556.55 L782.5 555.69 L783.5 554.76 L784.5 553.76 L785.5 552.7 L786.5 551.6 L787.5 550.48 L788.5 549.34 L789.5 548.21 L790.5 547.08 L791.5 545.99 L792.5 544.94 L793.5 543.95 L794.5 543.02 L795.5 542.17 L796.5 541.42 L797.5 540.76 L798.5 540.21 L799.5 539.77 L800.5 539.46 L801.5 539.27 L802.5 539.2 L803.5 539.26 L804.5 539.45 L805.5 539.76 L806.5 540.2 L807.5 540.74 L808.5 541.4 L809.5 542.15 L810.5 543 L811.5 543.92 L812.5 544.92 L813.5 545.96 L814.5 547.06 L815.5 548.18 L816.5 549.31 L817.5 550.45 L818.5 551.58 L819.5 552.67 L820.5 553.73 L821.5 554.73 L822.5 555.67 L823.5 556.53 L824.5 557.3 L825.5 557.97 L826.5 558.53 L827.5 558.98 L828.5 559.31 L829.5 559.52 L830.5 559.6 L831.5 559.55 L832.5 559.38 L833.5 559.08 L834.5 558.67 L835.5 558.13 L836.5 557.49 L837.5 556.75 L838.5 555.91 L839.5 555 L840.5 554.01 L841.5 552.97 L842.5 551.88 L843.5 550.76 L844.5 549.63 L845.5 548.49 L846.5 547.36 L847.5 546.26 L848.5 545.2 L849.5 544.19 L850.5 543.24 L851.5 542.38 L852.5 541.6 L853.5 540.91 L854.5 540.33 L855.5 539.87 L856.5 539.52 L857.5 539.3 L858.5 539.2 L859.5 539.23 L860.5 539.39 L861.5 539.67 L862.5 540.08 L863.5 540.6 L864.5 541.22 L865.5 541.95 L866.5 542.78 L867.5 543.68 L868.5 544.66 L869.5 545.7 L870.5 546.78 L871.5 547.9 L872.5 549.03 L873.5 550.17 L874.5 551.3 L875.5 552.4 L876.5 553.47 L877.5 554.49 L878.5 555.44 L879.5 556.32 L880.5 557.11 L881.5 557.81 L882.5 558.4 L883.5 558.88 L884.5 559.24 L885.5 559.48 L886.5 559.59 L887.5 559.58 L888.5 559.43 L889.5 559.17 L890.5 558.78 L891.5 558.28 L892.5 557.66 L893.5 556.94 L894.5 556.13 L895.5 555.23 L896.5 554.26 L897.5 553.23 L898.5 552.16 L899.5 551.04 L900.5 549.91 L901.5 548.77 L902.5 547.64 L903.5 546.53" fill="none" stroke="#111" stroke-width="2.5"/>
<rect x="719.3" y="470.5" width="24.4" height="157.8" fill="#a9a9ab"/>
<rect x="903.3" y="470.5" width="24.3" height="157.8" fill="#a9a9ab"/>
<polygon points="791.2,526.3 810.1,520.55 810.1,525 846.8,525 846.8,527.6 810.1,527.6 810.1,532.05" fill="#151515"/>
<polygon points="851.2,573 832.2,567.35 832.2,571.7 795.6,571.7 795.6,574.3 832.2,574.3 832.2,578.65" fill="#151515"/>
<polygon points="948.8,527.8 968,513.15 968,521.8 1020.5,521.8 1020.5,533.8 968,533.8 968,542.45" fill="#0d0a0a"/>
<polygon points="1020,571.2 1001,556.8 1001,564.95 948.5,564.95 948.5,577.45 1001,577.45 1001,585.6" fill="#231815"/>
<text x="637.3" y="624.2" font-size="23.5" class="sans" text-anchor="start" textLength="38" lengthAdjust="spacingAndGlyphs">loss</text>
<text x="719.3" y="660.6" class="lab" font-size="34.3" textLength="18.6" lengthAdjust="spacingAndGlyphs" style="font-weight:bold">R</text>
<text x="737.6" y="672.1" class="lab" font-size="21" textLength="44" lengthAdjust="spacingAndGlyphs">short</text>
<text x="902.3" y="660.6" class="lab" font-size="34.3" textLength="18.6" lengthAdjust="spacingAndGlyphs" style="font-weight:bold">R</text>
<text x="920.6" y="672.1" class="lab" font-size="21" textLength="38" lengthAdjust="spacingAndGlyphs">long</text>
</g>
</svg>
</body>
</html>
